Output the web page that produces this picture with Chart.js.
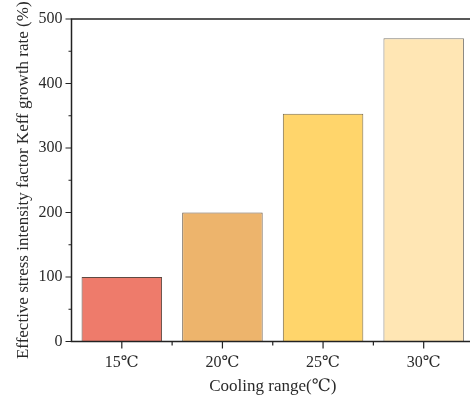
<!DOCTYPE html>
<html>
<head>
<meta charset="utf-8">
<script src="https://cdn.jsdelivr.net/npm/chart.js@4/dist/chart.umd.min.js"></script>
<style>
html,body{margin:0;padding:0;background:#fff;overflow:hidden;}
#wrap{width:470px;height:401px;overflow:hidden;position:relative;}
canvas{display:block;}
</style>
</head>
<body>
<div id="wrap"><canvas id="c" width="474" height="401"></canvas></div>
<script>
const categories = ['15℃', '20℃', '25℃', '30℃'];
const growthRate = [100, 200, 353, 470];
const barColors = ['#EE7B6B', '#EDB46C', '#FFD56B', '#FFE6B4'];
const barBorders = ['#5E4A42', '#6A5A48', '#7A6C4C', '#7E7A72'];
const yTicks = [0, 100, 200, 300, 400, 500];
const yTitle = 'Effective stress intensity factor Keff growth rate (%)';
const xTitle = 'Cooling range(℃)';

const FONT = '"Liberation Serif", "DejaVu Serif", "Times New Roman", "Noto Sans CJK SC", serif';
const AXIS = '#222';

const framePlugin = {
  id: 'frame',
  afterDraw(chart) {
    const ctx = chart.ctx;
    const a = chart.chartArea;
    const y = chart.scales.y, x = chart.scales.x;
    ctx.save();
    ctx.strokeStyle = AXIS;
    ctx.lineWidth = 1.5;
    ctx.beginPath();
    ctx.moveTo(a.left, a.bottom + 0.75);
    ctx.lineTo(a.left, a.top);
    ctx.moveTo(a.left - 0.75, a.top);
    ctx.lineTo(a.right, a.top);
    ctx.moveTo(a.right, a.top);
    ctx.lineTo(a.right, a.bottom);
    ctx.moveTo(a.left - 0.75, a.bottom);
    ctx.lineTo(a.right, a.bottom);
    ctx.stroke();
    ctx.lineWidth = 1.2;
    ctx.beginPath();
    for (let v = 0; v <= 500; v += 50) {
      const py = y.getPixelForValue(v);
      const len = (v % 100 === 0) ? 6 : 3;
      ctx.moveTo(a.left - len, py);
      ctx.lineTo(a.left, py);
    }
    for (let i = 0; i < categories.length; i++) {
      const px = x.getPixelForValue(i);
      ctx.moveTo(px, a.bottom);
      ctx.lineTo(px, a.bottom + 7);
      const bx = x.getPixelForValue(i + 0.5);
      ctx.moveTo(bx, a.bottom);
      ctx.lineTo(bx, a.bottom + 4);
    }
    ctx.stroke();
    ctx.restore();
  }
};

new Chart(document.getElementById('c'), {
  type: 'bar',
  data: {
    labels: categories,
    datasets: [{
      data: growthRate,
      backgroundColor: barColors,
      borderColor: barBorders,
      borderWidth: 1,
      barPercentage: 0.8,
      categoryPercentage: 1.0
    }]
  },
  options: {
    responsive: false,
    animation: false,
    devicePixelRatio: 1,
    layout: { padding: { left: 0, right: 0, top: 19, bottom: 0 } },
    plugins: { legend: { display: false }, tooltip: { enabled: false } },
    scales: {
      x: {
        offset: true,
        grid: { display: false, drawTicks: false },
        border: { display: false },
        ticks: { color: '#2a2a2a', font: { family: FONT, size: 16 }, padding: 12 },
        title: { display: true, text: xTitle, color: '#2a2a2a', font: { family: FONT, size: 17 }, padding: { top: 3 } },
        afterFit(s) { s.height = 59.5; }
      },
      y: {
        min: 0, max: 500,
        afterBuildTicks(s) { s.ticks = yTicks.map(v => ({ value: v })); },
        grid: { display: false, drawTicks: false },
        border: { display: false },
        ticks: { color: '#2a2a2a', font: { family: FONT, size: 16 }, padding: 9 },
        title: { display: true, text: yTitle, color: '#2a2a2a', font: { family: FONT, size: 17 }, padding: { top: 13 } },
        afterFit(s) { s.width = 71.5; }
      }
    }
  },
  plugins: [framePlugin]
});
</script>
</body>
</html>
